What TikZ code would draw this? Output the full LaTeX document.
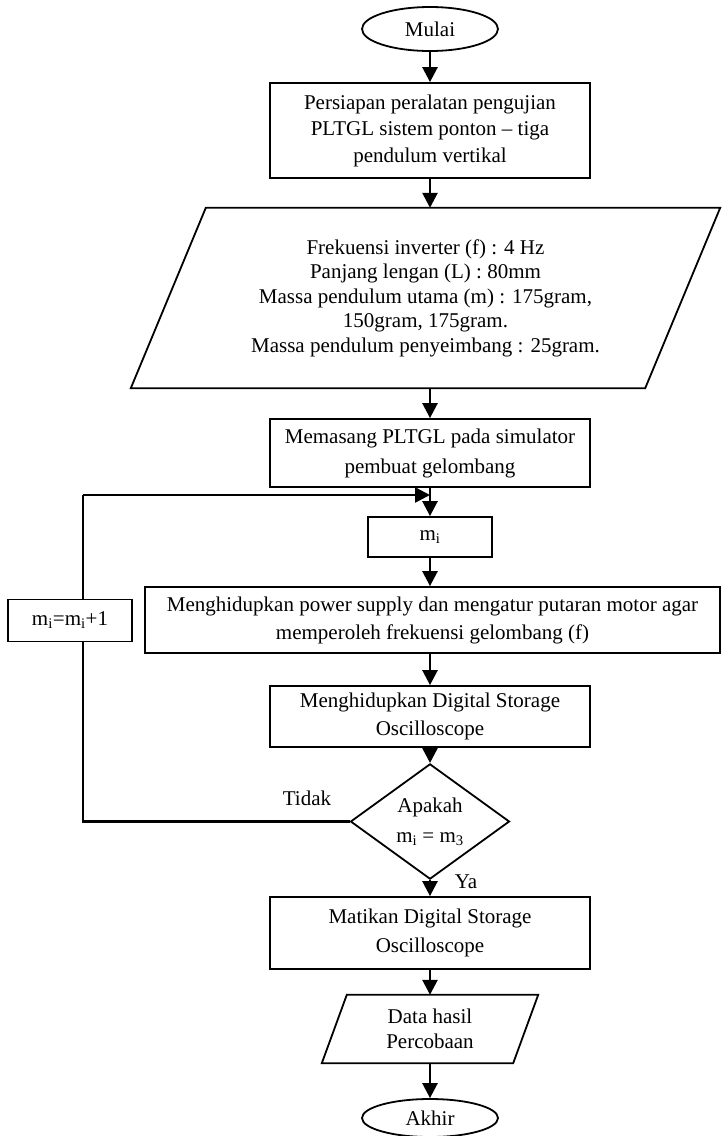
\documentclass[tikz,border=0pt]{standalone}
\usepackage{fontspec}
\setmainfont{Liberation Serif}
\usetikzlibrary{shapes.geometric,arrows.meta,calc}
\begin{document}
\begin{tikzpicture}[x=1pt,y=-1pt,
  txt/.style={font=\fontsize{21}{26}\selectfont,align=center,inner sep=0pt},
  box/.style={txt,draw,line width=1.8pt,rectangle},
  term/.style={txt,draw,line width=1.8pt,ellipse},
  decision/.style={txt,draw,line width=1.8pt,diamond},
  io/.style={txt,rectangle},
  outline/.style={line width=1.8pt,line join=miter},
  flow/.style={line width=2.6pt,-{Triangle[width=15pt,length=15pt]}},
  loopline/.style={line width=2.2pt}
]
\useasboundingbox (0,0) rectangle (721,1136);

% main column
\node[term, minimum width=136pt, minimum height=44pt] (mulai) at (430,29) {Mulai};
\node[box, minimum width=320pt, minimum height=95pt,
      font=\fontsize{21}{26.5}\selectfont] (prep) at (430,130.5)
  {Persiapan peralatan pengujian\\PLTGL sistem ponton \textendash{} tiga\\pendulum vertikal};
\node[io, minimum width=514pt, minimum height=180pt,
      font=\fontsize{21}{24.5}\selectfont] (param) at (425.5,298)
  {Frekuensi inverter (f) : 4 Hz\\Panjang lengan (L) : 80mm\\Massa pendulum utama (m) : 175gram,\\150gram, 175gram.\\Massa pendulum penyeimbang : 25gram.};
\draw[outline] ($(param.north west)+(37.5,0)$) -- ($(param.north east)+(37.5,0)$)
  -- ($(param.south east)+(-37.5,0)$) -- ($(param.south west)+(-37.5,0)$) -- cycle;
\node[box, minimum width=320pt, minimum height=68pt,
      font=\fontsize{21}{30}\selectfont] (pasang) at (430,453)
  {Memasang PLTGL pada simulator\\pembuat gelombang};
\node[box, minimum width=124pt, minimum height=40pt] (mi) at (430,537) {m\textsubscript{i}};
\node[box, minimum width=575pt, minimum height=66pt,
      font=\fontsize{21}{28}\selectfont] (power) at (432.5,620)
  {Menghidupkan power supply dan mengatur putaran motor agar\\memperoleh frekuensi gelombang (f)};
\node[box, minimum width=320pt, minimum height=61pt,
      font=\fontsize{21}{28}\selectfont] (dsoon) at (430,716.5)
  {Menghidupkan Digital Storage\\Oscilloscope};
\node[decision, minimum width=159pt, minimum height=97pt,
      font=\fontsize{21}{30}\selectfont] (cek) at (430,821.5)
  {Apakah\\m\textsubscript{i} = m\textsubscript{3}};
\node[box, minimum width=320pt, minimum height=72pt,
      font=\fontsize{21}{29}\selectfont] (dsooff) at (430,933)
  {Matikan Digital Storage\\Oscilloscope};
\node[io, minimum width=191pt, minimum height=68pt,
      font=\fontsize{21}{25}\selectfont] (hasil) at (430,1029)
  {Data hasil\\Percobaan};
\draw[outline] ($(hasil.north west)+(12.5,0)$) -- ($(hasil.north east)+(12.5,0)$)
  -- ($(hasil.south east)+(-12.5,0)$) -- ($(hasil.south west)+(-12.5,0)$) -- cycle;
\node[term, minimum width=136pt, minimum height=38pt] (akhir) at (430,1118) {Akhir};

% loop counter and its return line
\node[box, minimum width=124pt, minimum height=42pt] (inc) at (70,620.5)
  {m\textsubscript{i}=m\textsubscript{i}+1};
\coordinate (join) at (430,495);
\coordinate (incbot) at ($(inc.south)+(13,0)$);
\coordinate (inctop) at ($(inc.north)+(13,0)$);
\coordinate (corner) at (inctop |- join);

% labels
\node[txt] (tidak) at (307,798) {Tidak};
\node[txt] (ya) at (466,882) {Ya};

% connectors
\draw[flow] (mulai.south) -- (prep.north);
\draw[flow] (prep.south) -- (prep.south |- param.north);
\draw[flow] (pasang.north |- param.south) -- (pasang.north);
\draw[flow] (pasang.south) -- (mi.north);
\draw[flow] (mi.south) -- (mi.south |- power.north);
\draw[flow] (mi.south |- power.south) -- (dsoon.north);
\draw[flow] (dsoon.south) -- (cek.north);
\draw[flow] (cek.south) -- (dsooff.north);
\draw[flow] (dsooff.south) -- (hasil.north);
\draw[flow] (hasil.south) -- (akhir.north);
\draw[loopline] (cek.west) -| (incbot);
\draw[loopline] (inctop) -- (corner);
\draw[flow] (corner) -- (join);
\end{tikzpicture}
\end{document}
